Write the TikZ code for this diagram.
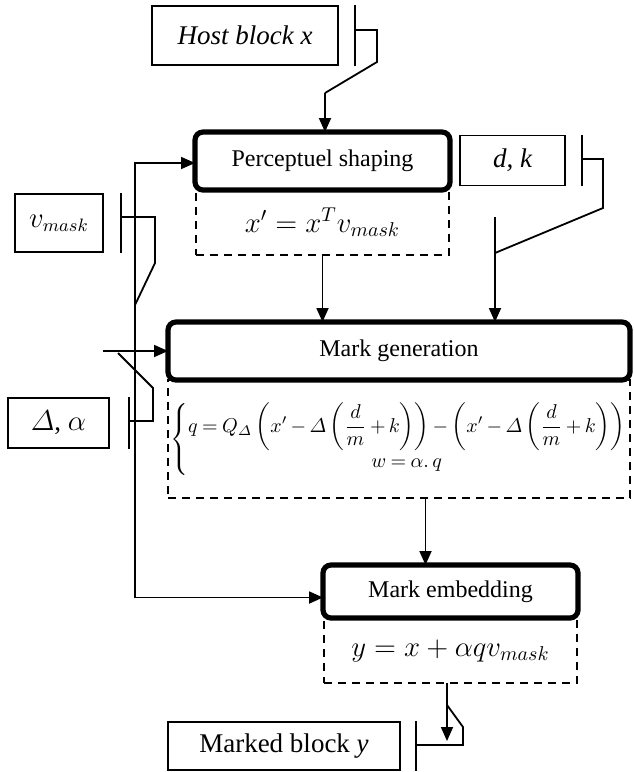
\documentclass[tikz,border=0pt]{standalone}
\usepackage{amsmath}
\usepackage{fontspec}
\setmainfont{Liberation Serif}
\usetikzlibrary{arrows.meta}

\begin{document}
\begin{tikzpicture}[x=0.5pt,y=-0.5pt,
  line/.style={line width=0.9pt},
  arr/.style={line width=0.9pt,-{Triangle[length=7pt,width=6pt]}},
  inbox/.style={draw,line width=0.9pt,inner sep=0pt,font=\fontsize{13.5}{16}\selectfont},
  block/.style={draw,line width=2.6pt,rounded corners=4pt,inner sep=0pt,outer sep=0pt,font=\fontsize{12}{14}\selectfont},
  eqbox/.style={draw,line width=1.1pt,dash pattern=on 4pt off 3pt,inner sep=0pt,outer sep=0pt,anchor=north,font=\fontsize{14}{17}\selectfont}]
\useasboundingbox (0,0) rectangle (633,772);

% inputs and output
\node[inbox,minimum width=93pt,minimum height=29.5pt] (host) at (245,35.5) {\itshape Host block x};
\node[inbox,minimum width=52.5pt,minimum height=25pt] (dk) at (512.5,160.5) {\itshape d, k};
\node[inbox,minimum width=44pt,minimum height=29pt] (vmask) at (59,223) {$v_{mask}$};
\node[inbox,minimum width=50.5pt,minimum height=25pt] (da) at (58.5,423) {$\varDelta$, $\alpha$};
\node[inbox,minimum width=116pt,minimum height=24pt] (marked) at (284,746) {Marked block \textit{y}};

% processing blocks
\node[block,minimum width=127.5pt,minimum height=29pt] (perc) at (322.5,161) {Perceptuel shaping};
\node[eqbox,minimum width=126.5pt,minimum height=32.5pt] (percEq) at (perc.south) {$x' = x^{T} v_{mask}$};
\node[block,minimum width=231pt,minimum height=29pt] (gen) at (399,351) {Mark generation};
\node[eqbox,minimum width=231pt,minimum height=59pt,font=\fontsize{9.6}{12}\selectfont] (genEq) at (gen.south)
  {$\medmuskip=3mu\thickmuskip=4mu
   \left\{\begin{array}{@{}c@{}}
   q = Q_{\varDelta}\left(x' - \varDelta\left(\dfrac{d}{m}+k\right)\right) - \left(x' - \varDelta\left(\dfrac{d}{m}+k\right)\right)\\[1pt]
   w = \alpha.\,q
   \end{array}\right.$};
\node[block,minimum width=127.5pt,minimum height=26.5pt] (emb) at (450.5,591.5) {Mark embedding};
\node[eqbox,minimum width=126.5pt,minimum height=32.5pt] (embEq) at (emb.south) {$y = x + \alpha q v_{mask}$};

% host block plug
\draw[line] ([xshift=8pt]host.north east) -- ([xshift=8pt]host.south east);
\draw[line] (354,30) -| (377,62) -- (325,93);
\coordinate (hostin) at (325,93);
\draw[arr] (hostin) -- (hostin |- perc.north);

% d, k plug
\draw[line] ([xshift=8pt]dk.north east) -- ([xshift=8pt]dk.south east);
\draw[line] (581,159) -| (603,208) -- (495,253);
\coordinate (dkin) at (495,217);
\draw[arr] (dkin) -- (dkin |- gen.north);

% v_mask plug
\draw[line] ([xshift=8.5pt]vmask.north east) -- ([xshift=8.5pt]vmask.south east);
\draw[line] (120,217) -| (155,263) -- (135,305);

% Delta, alpha plug
\draw[line] ([xshift=9.5pt]da.north east) -- ([xshift=9.5pt]da.south east);
\draw[line] (128,421) -| (153,388) -- (118,353);
\coordinate (dain) at (103,351);
\draw[arr] (dain) -- (gen.west);

% left bus
\coordinate (bus) at (135,400);
\draw[arr] (bus) |- ([yshift=-1pt]perc.west);
\draw[arr] (bus) |- ([yshift=-3pt]emb.west);

% flow
\draw[arr] (percEq.south) -- (percEq.south |- gen.north);
\draw[arr] ([xshift=-12.5pt]emb.north |- genEq.south) -- ([xshift=-12.5pt]emb.north);

% output plug
\coordinate (outtip) at (447,741);
\draw[arr] (embEq.south -| outtip) -- (outtip);
\draw[line] ([xshift=7.5pt]marked.north east) -- ([xshift=7.5pt]marked.south east);
\draw[line] (415,745) -| (463,727) -- (447,705);
\end{tikzpicture}
\end{document}
